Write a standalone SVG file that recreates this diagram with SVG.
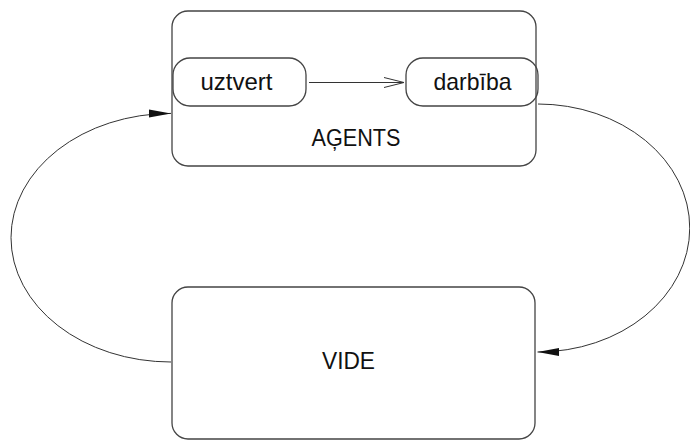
<svg xmlns="http://www.w3.org/2000/svg" width="690" height="441" viewBox="0 0 690 441">
  <style>
    .box { fill: none; stroke: #444; stroke-width: 1.3; }
    .link { fill: none; stroke: #333; stroke-width: 1; }
    .label { font-family: "Liberation Sans", Arial, sans-serif; font-size: 24px; fill: #111; text-anchor: middle; }
  </style>
  <defs>
    <marker id="solid" markerUnits="userSpaceOnUse" markerWidth="24" markerHeight="10" refX="22" refY="5" orient="auto">
      <path d="M0,1 L22,5 L0,9 Z" fill="#111"/>
    </marker>
    <marker id="open" markerUnits="userSpaceOnUse" markerWidth="22" markerHeight="12" refX="20" refY="6" orient="auto">
      <path d="M0,1 L20,6 L0,11" fill="none" stroke="#333" stroke-width="1"/>
    </marker>
  </defs>

  <g id="agent">
    <rect class="box" x="172" y="11" width="364" height="155" rx="16" ry="16"/>
    <text class="label" x="356" y="146" textLength="89" lengthAdjust="spacingAndGlyphs">AĢENTS</text>
  </g>

  <g id="perceive">
    <rect class="box" x="173" y="58" width="133" height="48" rx="17" ry="17"/>
    <text class="label" x="236.5" y="89.5">uztvert</text>
  </g>

  <g id="act">
    <rect class="box" x="406" y="58" width="132" height="48" rx="17" ry="17"/>
    <text class="label" x="472.5" y="89.5" textLength="78" lengthAdjust="spacingAndGlyphs">darbība</text>
  </g>

  <g id="environment">
    <rect class="box" x="172" y="287" width="363" height="152" rx="16" ry="16"/>
    <text class="label" x="348.5" y="368.5" textLength="53" lengthAdjust="spacingAndGlyphs">VIDE</text>
  </g>

  <g id="connectors">
    <path class="link" d="M309,82.5 L404,82.5" marker-end="url(#open)"/>
    <path class="link" d="M538,104 A152 124 0 0 1 537.5,352" marker-end="url(#solid)"/>
    <path class="link" d="M171,362 A160 124.3 0 0 1 171,113.4" marker-end="url(#solid)"/>
  </g>
</svg>
